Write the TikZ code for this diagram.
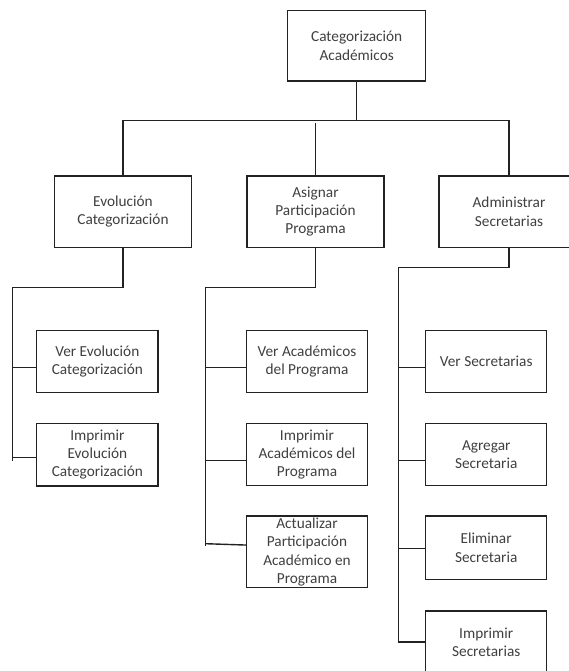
\documentclass[tikz,border=0pt]{standalone}
\usepackage{fontspec}
\setmainfont{Carlito}
\begin{document}
\begin{tikzpicture}[x=1pt,y=-1pt,
  box/.style={draw=linec, line width=1.4pt, rectangle, inner sep=0pt, align=center,
    text=textc, font=\fontsize{15.3}{18.3}\selectfont},
  conn/.style={draw=linec, line width=1.4pt}]
\definecolor{linec}{HTML}{222222}
\definecolor{textc}{HTML}{404040}
\useasboundingbox (0,0) rectangle (569,671);
\fill[white] (0,0) rectangle (569,671);
\clip (0,0) rectangle (569,671);
% level 0
\node[box, minimum width=138pt, minimum height=70.3pt] (root) at (356.7,45.85) {Categorización\\Académicos};
% level 1
\node[box, minimum width=137.4pt, minimum height=71.3pt] (a) at (123,211.65) {Evolución\\Categorización};
\node[box, minimum width=137.3pt, minimum height=71.3pt] (b) at (315.5,211.65) {Asignar\\Participación\\Programa};
\node[box, minimum width=140pt, minimum height=71.3pt] (c) at (509,211.65) {Administrar\\Secretarias};
% level 2 - left
\node[box, minimum width=121.3pt, minimum height=61.6pt] (a1) at (97.35,361.5) {Ver Evolución\\Categorización};
\node[box, minimum width=121.3pt, minimum height=62.7pt] (a2) at (97.35,454.65) {Imprimir\\Evolución\\Categorización};
% level 2 - middle
\node[box, minimum width=120.6pt, minimum height=61.6pt] (b1) at (307,361.5) {Ver Académicos\\del Programa};
\node[box, minimum width=120.6pt, minimum height=62.4pt] (b2) at (307,454.5) {Imprimir\\Académicos del\\Programa};
\node[box, minimum width=120.6pt, minimum height=71.7pt] (b3) at (307,551.85) {Actualizar\\Participación\\Académico en\\Programa};
% level 2 - right
\node[box, minimum width=121pt, minimum height=61.6pt] (c1) at (486.2,361.5) {Ver Secretarias};
\node[box, minimum width=121pt, minimum height=62.4pt] (c2) at (486.2,454.5) {Agregar\\Secretaria};
\node[box, minimum width=121pt, minimum height=63.3pt] (c3) at (486.2,547.65) {Eliminar\\Secretaria};
\node[box, minimum width=121pt, minimum height=62pt] (c4) at (486.2,642) {Imprimir\\Secretarias};
% connectors level 0 -> 1
\coordinate (bar) at (0,120.7);
\coordinate (bstart) at (0,123.3);
\draw[conn] (root.south) -- (root.south |- bar);
\draw[conn] (a.north) -- (a.north |- bar) -- (c.north |- bar) -- (c.north);
\draw[conn] (b.north) -- (b.north |- bstart);
% left subtree
\coordinate (asp) at (12.7,287.7);
\coordinate (aend) at (12.7,461);
\coordinate (a1p) at ([yshift=-6.2pt]a1.west);
\coordinate (a2p) at ([yshift=-3pt]a2.west);
\draw[conn] (a.south) -- (a.south |- asp) -- (asp) -- (aend);
\draw[conn] (asp |- a1p) -- (a1p);
\draw[conn] (asp |- a2p) -- (a2p);
% middle subtree
\coordinate (bsp) at (205.7,287.7);
\coordinate (bend) at (205.7,545.7);
\coordinate (b1p) at ([yshift=-5.8pt]b1.west);
\coordinate (b2p) at ([yshift=-6.2pt]b2.west);
\coordinate (b3p) at ([yshift=6.8pt]b3.west);
\coordinate (b3q) at (205.7,543.7);
\draw[conn] (b.south) -- (b.south |- bsp) -- (bsp) -- (bend);
\draw[conn] (bsp |- b1p) -- (b1p);
\draw[conn] (bsp |- b2p) -- (b2p);
\draw[conn] (b3q) -- (b3p);
% right subtree
\coordinate (csp) at (398.3,267.3);
\coordinate (cend) at (398.3,642.3);
\coordinate (c1p) at ([yshift=-6.2pt]c1.west);
\coordinate (c2p) at ([yshift=-6.2pt]c2.west);
\coordinate (c3p) at ([yshift=-0.7pt]c3.west);
\draw[conn] (c.south) -- (c.south |- csp) -- (csp) -- (cend);
\draw[conn] (csp |- c1p) -- (c1p);
\draw[conn] (csp |- c2p) -- (c2p);
\draw[conn] (csp |- c3p) -- (c3p);
\draw[conn] (csp |- c4.west) -- (c4.west);
\end{tikzpicture}
\end{document}
